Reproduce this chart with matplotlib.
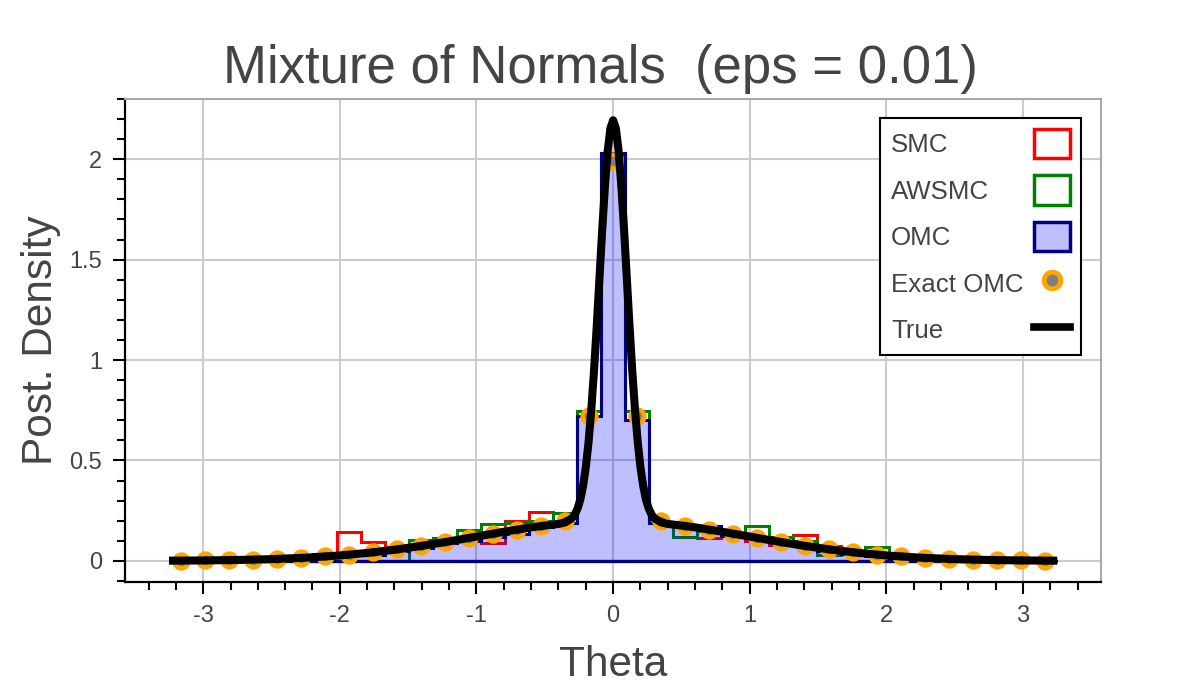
import matplotlib
matplotlib.use("Agg")
import matplotlib.pyplot as plt
import numpy as np
from matplotlib.patches import Patch
from matplotlib.lines import Line2D
from matplotlib.ticker import MultipleLocator, FormatStrFormatter

plt.rcParams['font.family'] = ['Liberation Sans', 'DejaVu Sans']
text_col = '#444444'

# histogram range and bins (37 bins on [-3.25, 3.25])
theta_lo = -3.25
theta_hi = 3.25
n_bins = 37

smc = [0.0, 0.0, 0.002, 0.004, 0.008, 0.012, 0.03, 0.145, 0.095, 0.07,
       0.07, 0.10, 0.11, 0.09, 0.20, 0.245, 0.19, 0.745, 2.02,
       0.745, 0.19, 0.17, 0.115, 0.135, 0.10, 0.08, 0.13, 0.075, 0.045,
       0.03, 0.02, 0.012, 0.006, 0.003, 0.002, 0.0, 0.0]

awsmc = [0.0, 0.0, 0.0, 0.0, 0.0, 0.0, 0.0, 0.0, 0.0, 0.0,
         0.105, 0.115, 0.155, 0.185, 0.19, 0.20, 0.24, 0.745, 2.02,
         0.745, 0.19, 0.12, 0.15, 0.13, 0.175, 0.12, 0.10, 0.03, 0.04,
         0.07, 0.0, 0.0, 0.0, 0.0, 0.0, 0.0, 0.0]

omc = [0.001, 0.001, 0.002, 0.004, 0.007, 0.012, 0.035, 0.03, 0.03, 0.05,
       0.065, 0.09, 0.10, 0.12, 0.135, 0.17, 0.19, 0.72, 2.03,
       0.70, 0.19, 0.175, 0.175, 0.125, 0.12, 0.095, 0.085, 0.05, 0.035,
       0.025, 0.015, 0.01, 0.006, 0.003, 0.002, 0.001, 0.0]

exact_omc = [0.001, 0.002, 0.004, 0.006, 0.010, 0.015, 0.022, 0.031, 0.043, 0.057,
             0.074, 0.094, 0.115, 0.136, 0.156, 0.174, 0.199, 0.723, 1.99,
             0.723, 0.199, 0.174, 0.156, 0.136, 0.115, 0.094, 0.074, 0.057, 0.043,
             0.031, 0.022, 0.015, 0.010, 0.006, 0.004, 0.002, 0.001]

true_x = [-3.25, -3.0, -2.75, -2.5, -2.25, -2.0, -1.8, -1.6, -1.4, -1.2, -1.0,
          -0.8, -0.6, -0.5, -0.4, -0.35, -0.3, -0.28, -0.26, -0.24, -0.22,
          -0.2, -0.18, -0.16, -0.14, -0.12, -0.1, -0.08, -0.06, -0.04, -0.02,
          0.0,
          0.02, 0.04, 0.06, 0.08, 0.1, 0.12, 0.14, 0.16, 0.18, 0.2,
          0.22, 0.24, 0.26, 0.28, 0.3, 0.35, 0.4, 0.5, 0.6, 0.8,
          1.0, 1.2, 1.4, 1.6, 1.8, 2.0, 2.25, 2.5, 2.75, 3.0, 3.25]
true_y = [0.001, 0.0022, 0.0045, 0.0088, 0.0159, 0.027, 0.0395, 0.0555, 0.075, 0.097, 0.121,
          0.145, 0.167, 0.176, 0.184, 0.192, 0.213, 0.232, 0.261, 0.306, 0.373,
          0.466, 0.591, 0.752, 0.946, 1.169, 1.408, 1.648, 1.865, 2.041, 2.154,
          2.194,
          2.154, 2.041, 1.865, 1.648, 1.408, 1.169, 0.946, 0.752, 0.591, 0.466,
          0.373, 0.306, 0.261, 0.232, 0.213, 0.192, 0.184, 0.176, 0.167, 0.145,
          0.121, 0.097, 0.075, 0.0555, 0.0395, 0.027, 0.0159, 0.0088, 0.0045, 0.0022, 0.001]

edges = np.linspace(theta_lo, theta_hi, n_bins + 1)
centers = (edges[:-1] + edges[1:]) / 2

fig = plt.figure(figsize=(12, 7), dpi=100)
ax = fig.add_axes([0.1044, 0.1686, 0.8131, 0.69])

ax.stairs(smc, edges, color='red', lw=2.2, zorder=3)
ax.stairs(awsmc, edges, color='green', lw=2.2, zorder=3)
ax.stairs(omc, edges, fill=True, facecolor=(0, 0, 1, 0.25), edgecolor='navy',
          lw=2.2, zorder=4)
# OMC outline along the baseline
ax.hlines(0, edges[0], edges[-1], color='navy', lw=2.4, zorder=4)
ax.plot(centers, exact_omc, 'o', ms=10, mfc='gray', mec='orange', mew=3.2,
        zorder=5)
ax.plot(true_x, true_y, color='black', lw=5.8, solid_capstyle='butt', zorder=6)

ax.set_xlim(-3.57, 3.57)
ax.set_ylim(-0.105, 2.3)
ax.xaxis.set_major_locator(MultipleLocator(1))
ax.xaxis.set_minor_locator(MultipleLocator(0.2))
ax.yaxis.set_major_locator(MultipleLocator(0.5))
ax.yaxis.set_minor_locator(MultipleLocator(0.1))
ax.yaxis.set_major_formatter(FormatStrFormatter('%g'))
ax.xaxis.set_major_formatter(FormatStrFormatter('%g'))

ax.grid(True, which='major', color='#cccccc', lw=1.5, zorder=0)
ax.set_axisbelow(True)
ax.tick_params(which='major', direction='out', length=8.5, width=1.5,
               color='black', labelsize=17, labelcolor=text_col, pad=8)
ax.tick_params(which='minor', direction='out', length=6, width=1.5, color='black')
ax.tick_params(top=False, right=False)
for side in ['left', 'bottom']:
    ax.spines[side].set_color('black')
    ax.spines[side].set_linewidth(1.6)
for side in ['top', 'right']:
    ax.spines[side].set_color('#aaaaaa')
    ax.spines[side].set_linewidth(1.5)

ax.set_xlabel('Theta', fontsize=30.5, color=text_col)
ax.set_ylabel('Post. Density', fontsize=30.5, color=text_col)
ax.xaxis.set_label_coords(0.5, -0.13)
ax.yaxis.set_label_coords(-0.066, 0.5)

fig.text(0.5, 1 - 83 / 700, 'Mixture of Normals  (eps = 0.01)', ha='center',
         va='baseline', fontsize=38, color=text_col)

handles = [
    Patch(facecolor='white', edgecolor='red', lw=2.5),
    Patch(facecolor='white', edgecolor='green', lw=2.5),
    Patch(facecolor=(0.75, 0.75, 1.0), edgecolor='navy', lw=2.5),
    Line2D([], [], ls='none', marker='o', ms=12, mfc='gray', mec='orange', mew=3.5),
    Line2D([], [], color='black', lw=5.5),
]
labels = ['SMC', 'AWSMC', 'OMC', 'Exact OMC', 'True']
leg = ax.legend(handles, labels, loc='upper right', bbox_to_anchor=(0.9795, 0.9607),
                borderaxespad=0, markerfirst=False, fontsize=18.6,
                handlelength=1.38, handleheight=1.38, labelspacing=0.66,
                handletextpad=0.42, borderpad=0.42, fancybox=False,
                framealpha=1, edgecolor='black')
leg.get_frame().set_linewidth(1.5)
for t in leg.get_texts():
    t.set_color(text_col)

# left-align the labels: widen the gap before each handle
fig.canvas.draw()
renderer = fig.canvas.get_renderer()
widths = [t.get_window_extent(renderer).width for t in leg.get_texts()]
maxw = max(widths)
column = leg._legend_handle_box.get_children()[0]
for row, w in zip(column.get_children(), widths):
    row.sep = row.sep + (maxw - w) * 72 / fig.dpi

fig.savefig('out.png', dpi=100)
